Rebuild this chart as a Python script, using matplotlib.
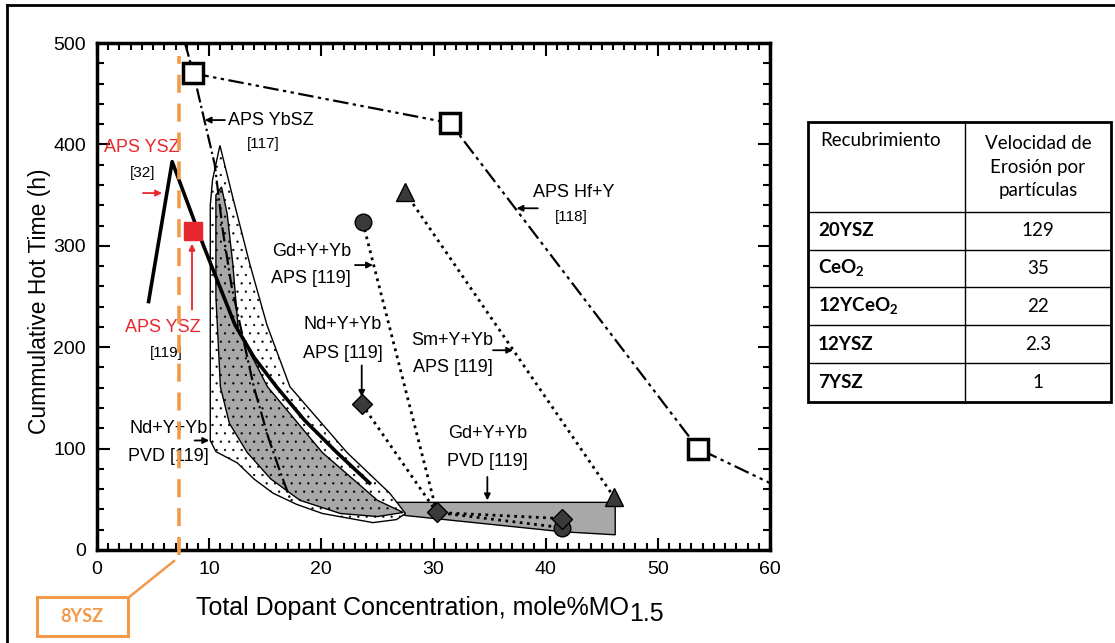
import matplotlib
matplotlib.use('Agg')
import matplotlib.pyplot as plt
from matplotlib.lines import Line2D
from matplotlib.patches import Rectangle

plt.rcParams['font.family'] = ['Liberation Sans', 'DejaVu Sans']
plt.rcParams['hatch.linewidth'] = 0.4
plt.rcParams['mathtext.fontset'] = 'custom'
plt.rcParams['mathtext.rm'] = 'Lato'
plt.rcParams['mathtext.bf'] = 'Lato:bold'

# ---- data ----
# APS Hf+Y [118] (open squares)
hfy_x = [8.6, 31.5, 53.6]
hfy_y = [470, 421, 100]
hfy_line_x = [8.6, 31.5, 53.6, 60]
hfy_line_y = [470, 421, 100, 66]

# APS YbSZ [117] dash-dot curve
ybsz_x = [7.84, 8.6, 10.5, 11.2, 12.0, 13.0, 14.0, 15.3, 16.4, 17.3]
ybsz_y = [500, 470, 380, 316, 260, 210, 160, 110, 75, 48]

# APS YSZ [32] thick curve
ysz32_x = [4.6, 6.7, 9.5, 12.3, 14.0, 16.0, 18.5, 21.4, 24.3]
ysz32_y = [245, 383, 300, 222, 190, 161, 128, 96, 66]

# APS YSZ [119] red square
ysz119_x = [8.6]
ysz119_y = [315]

# Gd+Y+Yb APS -> PVD (circles)
gd_x = [23.7, 30.3, 41.5]
gd_y = [323, 37, 22]
# Nd+Y+Yb APS -> PVD (diamonds)
nd_x = [23.6, 30.3, 41.5]
nd_y = [144, 37, 31]
# Sm+Y+Yb APS (triangles)
sm_x = [27.45, 46.1]
sm_y = [353, 52]

# envelopes (Nd+Y+Yb PVD bands)
outer_x = [10.96, 10.3, 10.1, 10.1, 10.6, 12.5, 14.0, 15.7, 17.8, 20.1, 24.6, 26.7, 27.5,
           26.1, 22.3, 17.2, 15.15, 13.6, 12.1]
outer_y = [399, 365, 340, 108, 97, 86, 70, 56, 45, 36, 27, 30, 36,
           56, 96, 161, 222, 283, 348]
inner_x = [11.1, 10.6, 10.6, 11.0, 11.8, 13.4, 15.5, 18.1, 21.7, 25.0, 27.3,
           25.0, 20.1, 15.2, 12.6, 12.1, 11.6]
inner_y = [358, 350, 250, 161, 125, 96, 70, 49, 36, 33, 37,
           49, 96, 161, 217, 283, 332]
# Gd+Y+Yb PVD band
pvd_x = [24.6, 46.2, 46.2, 41.5, 27.5]
pvd_y = [47, 47, 15, 18, 34]

x8ysz = 7.35

# table
tbl_header = ['Recubrimiento', 'Velocidad de\nErosión por\npartículas']
tbl_coat = ['20YSZ', r'CeO$_\mathbf{2}$', r'12YCeO$_\mathbf{2}$', '12YSZ', '7YSZ']
tbl_rate = ['129', '35', '22', '2.3', '1']

W, H = 1115, 643
fig = plt.figure(figsize=(W / 100, H / 100), dpi=100)
ax = fig.add_axes([97 / W, 1 - 550 / H, 673 / W, 507 / H])

red = '#e8262d'
orange = '#f39a4a'
dark = '#3a3a3a'

ax.fill(pvd_x, pvd_y, facecolor='#a8a8a8', edgecolor='k', lw=1, zorder=1)
ax.fill(outer_x, outer_y, facecolor='white', edgecolor='k', lw=1, hatch='..', zorder=2)
ax.fill(inner_x, inner_y, facecolor='#a8a8a8', edgecolor='k', lw=1, hatch='..', zorder=3)

ax.plot(ybsz_x, ybsz_y, color='k', ls='-.', lw=1.6, zorder=4, clip_on=False)
ax.plot(hfy_line_x, hfy_line_y, color='k', ls=(0, (7, 2, 1.5, 2, 1.5, 2)), lw=1.6, zorder=4)
ax.plot(hfy_x, hfy_y, ls='none', marker='s', ms=14, mfc='white', mec='k', mew=2.5, zorder=6)
ax.plot(ysz32_x, ysz32_y, color='k', lw=2.6, zorder=5)

ax.plot(gd_x, gd_y, color='k', ls=(0, (1, 1.6)), lw=2, zorder=4)
ax.plot(nd_x, nd_y, color='k', ls=(0, (1, 1.6)), lw=2, zorder=4)
ax.plot(sm_x, sm_y, color='k', ls=(0, (1, 1.6)), lw=2, zorder=4)
ax.plot(gd_x[::2], gd_y[::2], ls='none', marker='o', ms=12, mfc=dark, mec='k', zorder=6)
ax.plot(nd_x, nd_y, ls='none', marker='D', ms=10, mfc=dark, mec='k', zorder=6)
ax.plot(sm_x, sm_y, ls='none', marker='^', ms=13, mfc=dark, mec='k', zorder=6)
ax.plot(ysz119_x, ysz119_y, ls='none', marker='s', ms=13, mfc=red, mec=red, zorder=7)

ax.plot([x8ysz, x8ysz], [-5, 487], color=orange, ls=(0, (5, 3)), lw=2.6, zorder=8, clip_on=False)

ax.set_xlim(0, 60)
ax.set_ylim(0, 500)
ax.set_xticks(range(0, 61, 10))
ax.set_xticks(range(0, 61, 1), minor=True)
ax.set_yticks(range(0, 501, 100))
ax.set_yticks(range(0, 501, 20), minor=True)
ax.tick_params(which='both', direction='in', top=True, right=True, labelsize=14, width=1.5)
ax.tick_params(which='major', length=9, pad=8)
ax.tick_params(which='minor', length=5)
for s in ax.spines.values():
    s.set_linewidth(2.5)
ax.set_ylabel('Cummulative Hot Time (h)', fontsize=16.5, va='center')
ax.yaxis.set_label_coords(-0.085, 0.49)

# x label: "1.5" is full size, just shifted down
xl = fig.text(196 / W, 1 - 615 / H, 'Total Dopant Concentration, mole%MO', fontsize=18,
              ha='left', va='baseline')
ax.annotate('1.5', xy=(1, 0), xycoords=xl, xytext=(0, -4), textcoords='offset points',
            fontsize=18, ha='left', va='bottom')

# annotations
fs = 13
def arrow(x0, y0, x1, y1, c='k'):
    ax.annotate('', xy=(x1, y1), xytext=(x0, y0),
                arrowprops=dict(arrowstyle='-|>', color=c, lw=1.3, mutation_scale=9,
                                shrinkA=0, shrinkB=0), zorder=9)

ax.text(11.7, 424, 'APS YbSZ', fontsize=fs, va='center', ha='left')
ax.text(14.8, 400, '[117]', fontsize=11, va='center', ha='center')
arrow(11.4, 424, 9.6, 424)

ax.text(38.9, 353, 'APS Hf+Y', fontsize=fs, va='center', ha='left')
ax.text(42.3, 328, '[118]', fontsize=11, va='center', ha='center')
arrow(39.3, 337, 37.4, 337)

ax.text(19.1, 294, 'Gd+Y+Yb', fontsize=fs, va='center', ha='center')
ax.text(19.1, 268, 'APS [119]', fontsize=fs, va='center', ha='center')
arrow(23.0, 281, 24.6, 281)

ax.text(21.9, 222, 'Nd+Y+Yb', fontsize=fs, va='center', ha='center')
ax.text(21.9, 194, 'APS [119]', fontsize=fs, va='center', ha='center')
arrow(23.6, 182, 23.6, 151)

ax.text(31.7, 207, 'Sm+Y+Yb', fontsize=fs, va='center', ha='center')
ax.text(31.7, 180, 'APS [119]', fontsize=fs, va='center', ha='center')
arrow(35.3, 197, 37.1, 197)

ax.text(34.8, 115, 'Gd+Y+Yb', fontsize=fs, va='center', ha='center')
ax.text(34.8, 87, 'PVD [119]', fontsize=fs, va='center', ha='center')
arrow(34.8, 72, 34.8, 49)

ax.text(6.4, 120, 'Nd+Y+Yb', fontsize=fs, va='center', ha='center')
ax.text(6.4, 92, 'PVD [119]', fontsize=fs, va='center', ha='center')
arrow(8.7, 108, 10.0, 108)

ax.text(4.0, 397, 'APS YSZ', fontsize=fs, va='center', ha='center', color=red)
ax.text(4.05, 372, '[32]', fontsize=11, va='center', ha='center')
arrow(4.1, 352, 5.8, 352, red)

ax.text(5.9, 219, 'APS YSZ', fontsize=fs, va='center', ha='center', color=red)
ax.text(6.2, 194, '[119]', fontsize=11, va='center', ha='center')
arrow(8.47, 237, 8.47, 302, red)

# 8YSZ callout
fig.add_artist(Rectangle((37 / W, 1 - 636 / H), 91 / W, 39 / H, transform=fig.transFigure,
                         fill=False, ec=orange, lw=2.2))
fig.text(82 / W, 1 - 617 / H, '8YSZ', color=orange, fontsize=13, fontweight='bold',
         ha='center', va='center', family=['Lato', 'DejaVu Sans'])
fig.add_artist(Line2D([128 / W, 174 / W], [1 - 598 / H, 1 - 561 / H], transform=fig.transFigure,
                      color=orange, lw=1.8))

# outer frame (left and top)
fig.add_artist(Line2D([7 / W, 7 / W], [0, 1 - 5 / H], transform=fig.transFigure, color='k', lw=2))
fig.add_artist(Line2D([7 / W, 1], [1 - 5 / H, 1 - 5 / H], transform=fig.transFigure, color='k', lw=2))

# table
tx = fig.add_axes([0, 0, 1, 1], zorder=10)
tx.set_xlim(0, W)
tx.set_ylim(H, 0)
tx.axis('off')
tx.patch.set_alpha(0)
L, R, C = 808, 1111, 965
rows = [122, 212, 249.5, 287, 325, 363, 402]
tx.add_patch(Rectangle((L, rows[0]), R - L, rows[-1] - rows[0], fill=False, ec='k', lw=2))
tx.plot([C, C], [rows[0], rows[-1]], color='k', lw=1)
for r in rows[1:-1]:
    tx.plot([L, R], [r, r], color='k', lw=1)
tfont = ['Lato', 'DejaVu Sans']
tx.text(L + 12, 140, tbl_header[0], fontsize=13.5, va='center', ha='left', family=tfont)
tx.text((C + R) / 2, 167, tbl_header[1], fontsize=13.5, va='center', ha='center',
        family=tfont, linespacing=1.45)
for i, (c, v) in enumerate(zip(tbl_coat, tbl_rate)):
    yc = (rows[i + 1] + rows[i + 2]) / 2
    tx.text(L + 10, yc, c, fontsize=13.5, fontweight='bold', va='center', ha='left', family=tfont)
    tx.text((C + R) / 2, yc, v, fontsize=13.5, va='center', ha='center', family=tfont)

fig.savefig('out.png', dpi=100)
